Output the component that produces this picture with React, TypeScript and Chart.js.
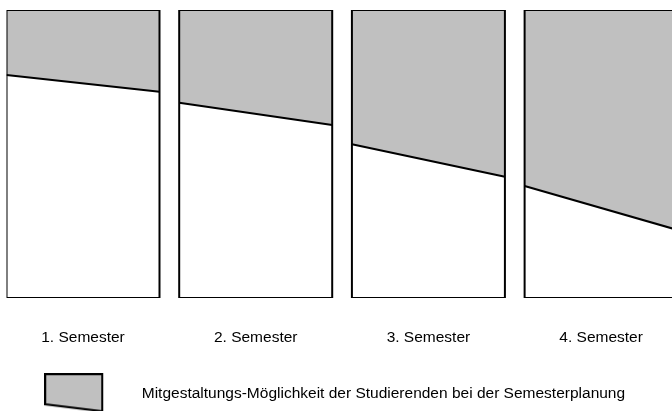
import React, { useEffect, useRef } from "react";
import { Chart, registerables } from "chart.js";

Chart.register(...registerables);

// ---- data ----
const SEMESTERS = ["1. Semester", "2. Semester", "3. Semester", "4. Semester"];
// share (%) of each panel's height taken by the grey area, at the panel's left and right edge
const SHARE_START = [22.6, 32.2, 46.6, 61.1];
const SHARE_END = [28.4, 39.9, 57.9, 76.4];
const LEGEND_LABEL = "Mitgestaltungs-Möglichkeit der Studierenden bei der Semesterplanung";

// ---- layout / style ----
const W = 672;
const H = 411;
const STEP = 1.1288; // distance between panel starts, in panel widths
const X_MAX = 4.3497; // visible extent of the x axis, in panel widths
const GREY = "#c0c0c0";
const FONT = { family: "'Liberation Sans', Arial, Helvetica, sans-serif", size: 15.5 };
const LEGEND_PAD = 14;

function makeIcon(): HTMLCanvasElement {
  const c = document.createElement("canvas");
  c.width = 66;
  c.height = 40;
  const ctx = c.getContext("2d")!;
  ctx.beginPath();
  ctx.moveTo(1, 1);
  ctx.lineTo(58, 1);
  ctx.lineTo(58, 38);
  ctx.lineTo(1, 31);
  ctx.closePath();
  ctx.fillStyle = GREY;
  ctx.fill();
  ctx.lineWidth = 2;
  ctx.strokeStyle = "#000";
  ctx.lineJoin = "miter";
  ctx.stroke();
  return c;
}

export default function App() {
  const ref = useRef<HTMLCanvasElement | null>(null);

  useEffect(() => {
    if (!ref.current) return;
    const icon = makeIcon();

    const frames = SEMESTERS.map((s, i) => {
      const x0 = i * STEP;
      const x1 = x0 + 1;
      return {
        label: s + " frame",
        data: [
          { x: x0, y: 0 },
          { x: x0, y: 100 },
          { x: x1, y: 100 },
          { x: x1, y: 0 },
          { x: x0, y: 0 },
        ],
        borderColor: "#000",
        borderWidth: 2,
        borderCapStyle: "square",
        borderJoinStyle: "miter",
        pointRadius: 0,
        showLine: true,
        fill: false,
        order: 0,
      };
    });

    const bounds = SEMESTERS.map((s, i) => {
      const x0 = i * STEP;
      return {
        label: s,
        data: [
          { x: x0, y: 100 - SHARE_START[i] },
          { x: x0 + 1, y: 100 - SHARE_END[i] },
        ],
        borderColor: "#000",
        borderWidth: 2,
        backgroundColor: GREY,
        fill: "end",
        pointRadius: 0,
        showLine: true,
        order: 1,
      };
    });

    const legendHeight = FONT.size + LEGEND_PAD + 10;

    const chart = new Chart(ref.current, {
      type: "scatter",
      data: { datasets: [...frames, ...bounds] as any },
      options: {
        animation: false,
        responsive: false,
        layout: { padding: { top: 10, left: 6.5, right: 0, bottom: 0 } },
        scales: {
          x: {
            type: "linear",
            min: 0,
            max: X_MAX,
            bounds: "data",
            grid: { display: false },
            border: { display: false },
            afterBuildTicks: (scale: any) => {
              scale.ticks = SEMESTERS.map((_, i) => ({ value: i * STEP + 0.5 }));
            },
            afterFit: (scale: any) => {
              scale.height = H - 298 - legendHeight;
            },
            ticks: {
              autoSkip: false,
              maxRotation: 0,
              minRotation: 0,
              padding: 22.5,
              color: "#000",
              font: FONT,
              callback: (_v: any, index: number) => SEMESTERS[index],
            },
          },
          y: { type: "linear", min: 0, max: 100, display: false },
        },
        plugins: {
          tooltip: { enabled: false },
          legend: {
            display: true,
            position: "bottom",
            align: "start",
            labels: {
              usePointStyle: true,
              pointStyleWidth: 113.5,
              padding: LEGEND_PAD,
              color: "#000",
              font: FONT,
              generateLabels: () => [
                {
                  text: LEGEND_LABEL,
                  pointStyle: icon,
                  fillStyle: GREY,
                  strokeStyle: "#000",
                  lineWidth: 2,
                  hidden: false,
                  datasetIndex: 4,
                } as any,
              ],
            },
          },
        },
      } as any,
    });
    return () => chart.destroy();
  }, []);

  return (
    <div style={{ position: "absolute", left: 0, top: 0, width: W, height: H, background: "#fff" }}>
      <canvas ref={ref} width={W} height={H} style={{ display: "block", width: W, height: H }} />
    </div>
  );
}
